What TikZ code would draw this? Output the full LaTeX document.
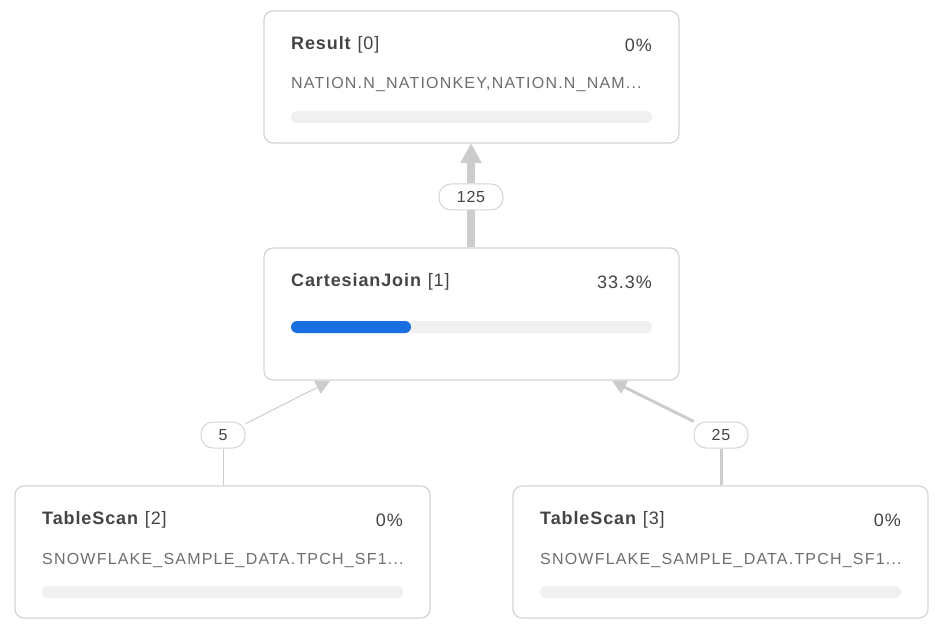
\documentclass[tikz,border=0pt]{standalone}
\usepackage{fontspec}
\setmainfont{Liberation Sans}
\newfontfamily\subfont[LetterSpace=7.5]{Liberation Sans}
\newfontfamily\ttlfont[LetterSpace=5]{Liberation Sans}
\usetikzlibrary{arrows.meta}
\definecolor{edgec}{HTML}{CCCCCC}
\definecolor{boxc}{HTML}{D4D4D4}
\definecolor{txt}{HTML}{444444}
\definecolor{sub}{HTML}{6E6E6E}
\definecolor{barbg}{HTML}{F0F0F0}
\definecolor{barfg}{HTML}{1A6FE0}
\tikzset{
 opbox/.style={draw=boxc, line width=1.2pt, rounded corners=9pt, fill=white, minimum width=415pt, minimum height=132pt, inner sep=0pt},
 ttl/.style={anchor=west, inner sep=0pt, font=\ttlfont\fontsize{18}{20}\selectfont, text=txt},
 pct/.style={anchor=east, inner sep=0pt, font=\ttlfont\fontsize{18}{20}\selectfont, text=txt},
 subt/.style={anchor=west, inner sep=0pt, font=\subfont\fontsize{16}{18}\selectfont, text=sub},
 pill/.style={draw=boxc, line width=1pt, fill=white, rounded corners=12pt, minimum height=26pt, inner sep=0pt, font=\ttlfont\fontsize{16}{18}\selectfont, text=txt},
 edge/.style={draw=edgec, -{Triangle[length=14pt,width=14pt]}},
}
\begin{document}
\begin{tikzpicture}[x=1pt,y=-1pt]
\useasboundingbox (0,0) rectangle (936,628);
\node[opbox] (r) at (471.5,77) {};
\node[opbox] (c) at (471.5,314) {};
\node[opbox] (t2) at (222.5,552) {};
\node[opbox] (t3) at (720.5,552) {};
\coordinate (rb) at (471,143);
\coordinate (cb1) at (330,381);
\coordinate (cb2) at (612,381);
\node[pill, minimum width=64pt] (l1) at (471,197) {125};
\node[pill, minimum width=44pt] (l2) at (223,435) {5};
\node[pill, minimum width=54pt] (l3) at (721,435) {25};
\draw[edgec, line width=8pt] (c.north -| rb) -- (l1);
\draw[edge, line width=8pt, -{Triangle[length=20pt,width=20pt]}] (l1) -- (rb);
\draw[edgec, line width=1pt] (t2.north -| l2) -- (l2);
\draw[edge, line width=1pt] (l2) -- (cb1);
\draw[edgec, line width=3pt] (t3.north -| l3) -- (l3);
\draw[edge, line width=3pt] (l3) -- (cb2);
\node[ttl] (rt) at (291,45) {\textbf{Result} [0]};
\node[pct] (rp) at (652,45) {0\%};
\node[subt] (rs) at (291,85) {NATION.N\_NATIONKEY,NATION.N\_NAM...};
\fill[barbg, rounded corners=6pt] (291,111) rectangle (652,123);
\node[ttl] (ct) at (291,282) {\textbf{CartesianJoin} [1]};
\node[pct] (cp) at (652,282) {33.3\%};
\fill[barbg, rounded corners=6pt] (291,321) rectangle (652,333);
\fill[barfg, rounded corners=6pt] (291,321) rectangle (411,333);
\node[ttl] (t2t) at (42,520) {\textbf{TableScan} [2]};
\node[pct] (t2p) at (403,520) {0\%};
\node[subt] (t2s) at (42,560) {SNOWFLAKE\_SAMPLE\_DATA.TPCH\_SF1...};
\fill[barbg, rounded corners=6pt] (42,586) rectangle (403,598);
\node[ttl] (t3t) at (540,520) {\textbf{TableScan} [3]};
\node[pct] (t3p) at (901,520) {0\%};
\node[subt] (t3s) at (540,560) {SNOWFLAKE\_SAMPLE\_DATA.TPCH\_SF1...};
\fill[barbg, rounded corners=6pt] (540,586) rectangle (901,598);
\end{tikzpicture}
\end{document}
